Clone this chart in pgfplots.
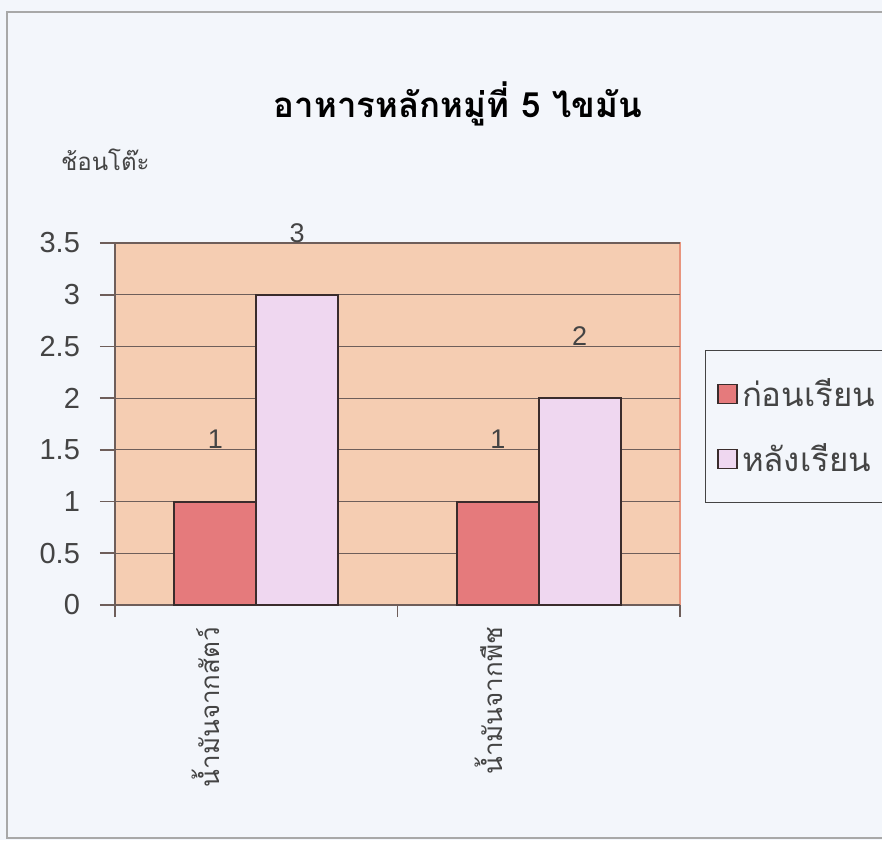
\documentclass[border=0pt]{standalone}
\usepackage{pgfplots}
\pgfplotsset{compat=1.18}
\usepackage{fontspec}
\setmainfont{Liberation Sans}
\newfontfamily\thaifont[Script=Thai]{Loma}
\definecolor{bgc}{HTML}{F3F6FB}
\definecolor{plotbg}{HTML}{F5CDB2}
\definecolor{plotedge}{HTML}{E8957E}
\definecolor{redbar}{HTML}{E57A7C}
\definecolor{pinkbar}{HTML}{EFD7F0}
\definecolor{gridc}{HTML}{6E5E5A}
\definecolor{edgec}{HTML}{3A2C2C}
\definecolor{txt}{HTML}{444444}
\definecolor{framec}{HTML}{A8A8A8}
\begin{document}
\begin{tikzpicture}
\useasboundingbox (0,0) rectangle (441pt,420pt);
\fill[bgc] (0,0) rectangle (441pt,420pt);
\draw[framec, line width=0.8pt] (441pt,414pt) -- (3.5pt,414pt) -- (3.5pt,1pt) -- (441pt,1pt);
\node[font=\thaifont\bfseries\fontsize{17.4}{20}\selectfont, text=black] at (229pt,368pt) {อาหารหลักหมู่ที่ 5 ไขมัน};
\node[anchor=west, font=\thaifont\fontsize{12}{14}\selectfont, text=txt] at (27pt,340pt) {ช้อนโต๊ะ};
\begin{axis}[
  at={(57.5pt,117.5pt)}, anchor=south west,
  scale only axis, width=282.5pt, height=181pt,
  xmin=-0.5, xmax=1.5, ymin=0, ymax=3.5,
  ybar, bar width=0.29,
  clip=false,
  axis background/.style={fill=plotbg, draw=plotedge, line width=0.8pt},
  axis x line*=bottom, axis y line*=left,
  axis line style={gridc, line width=0.8pt, -},
  ymajorgrids, grid style={gridc, line width=0.6pt},
  ytick={0,0.5,...,3.5},
  xtick={0,1},
  xticklabels={น้ำมันจากสัตว์, น้ำมันจากพืช},
  minor xtick={-0.5,0.5,1.5},
  major x tick style={draw=none},
  minor x tick style={draw=gridc, line width=0.8pt},
  minor tick length=6pt,
  ytick style={draw=gridc, line width=0.8pt},
  major tick length=7.5pt,
  tick align=outside,
  /pgf/number format/assume math mode=true,
  yticklabel style={font=\fontsize{14.5}{16}\selectfont, text=txt, xshift=-6.5pt},
  xticklabel style={xshift=-25pt, rotate=90, anchor=east, font=\thaifont\fontsize{13}{15}\selectfont, text=txt},
  nodes near coords,
  every node near coord/.append style={font=\fontsize{13.5}{15}\selectfont, text=txt, anchor=center, yshift=31pt},
  legend style={at={(1,0.704)}, anchor=north west, xshift=12.5pt, draw=txt, fill=bgc,
    font=\thaifont\fontsize{16.5}{19}\selectfont, text=txt, row sep=13pt, inner xsep=6pt, inner ysep=12pt},
  legend cell align=left,
  legend image code/.code={\draw[#1, line width=0.8pt] (0pt,-4.75pt) rectangle (9.5pt,4.75pt);},
]
\addplot[fill=redbar, draw=edgec, line width=1pt, bar shift=-0.145] coordinates {(0,1) (1,1)};
\addplot[fill=pinkbar, draw=edgec, line width=1pt, bar shift=0.145] coordinates {(0,3) (1,2)};
\legend{ก่อนเรียน, หลังเรียน}
\end{axis}
\end{tikzpicture}
\end{document}
